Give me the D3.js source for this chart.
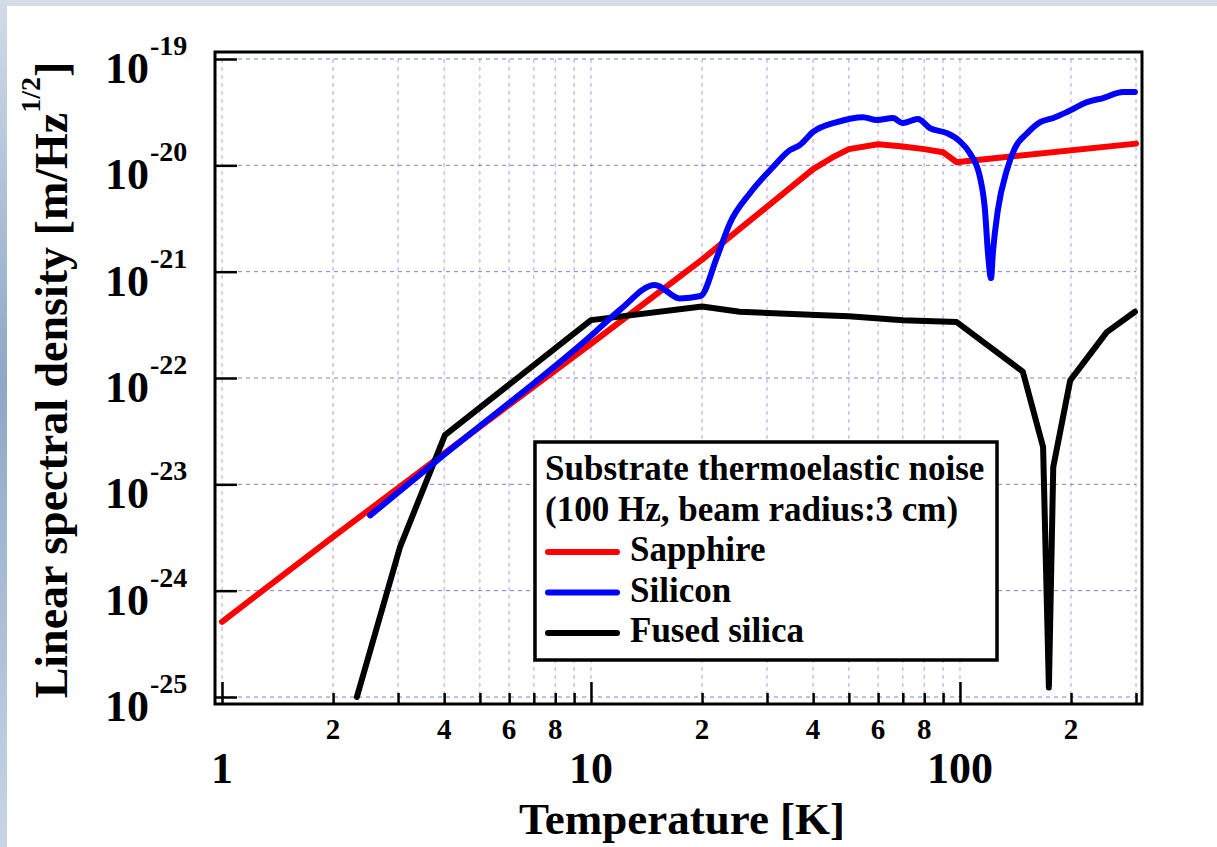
<!DOCTYPE html>
<html>

<head>
    <title>Substrate thermoelastic noise</title>
    <script src="https://d3js.org/d3.v7.min.js"></script>
    <style>
        body { margin: 0; background: #ffffff; }
        text { font-family: "Liberation Serif", "Times New Roman", serif; font-weight: bold; fill: #000; }
    </style>
</head>

<body>

    <svg width="1217" height="847" id="mainSvg" class="svgs"></svg>
    <script>

        // --- data ---
        const tempSapphire = [1, 2, 4, 10, 20, 40, 45, 50, 60, 70, 80, 90, 98, 105, 300];
        const sapphire = [5.1e-25, 3.2e-24, 1.95e-23, 2.1e-22, 1.3e-21, 9.2e-21, 1.18e-20, 1.42e-20, 1.58e-20,
            1.5e-20, 1.42e-20, 1.33e-20, 1.07e-20, 1.1e-20, 1.6e-20];

        const tempSilicon = [2.52, 4, 10, 12, 14.9, 17.4, 19.8, 21.95, 23.8, 27, 31.1, 34.6, 36.8, 40, 46.4, 54.6,
            59.6, 65.8, 70, 76.9, 82.9, 92.2, 100, 106.4, 113.3, 116.9, 119.1, 121.4, 122.8, 126.7, 134, 141, 152,
            165, 179, 195, 221, 244, 277, 298];
        const silicon = [5.1e-24, 1.9e-23, 2.5e-22, 4.4e-22, 7.5e-22, 5.6e-22, 5.9e-22, 1.37e-21, 2.86e-21, 5.5e-21,
            9.6e-21, 1.39e-20, 1.55e-20, 2.06e-20, 2.55e-20, 2.84e-20, 2.67e-20, 2.78e-20, 2.5e-20, 2.73e-20, 2.24e-20,
            2.01e-20, 1.68e-20, 1.3e-20, 7.76e-21, 3.8e-21, 1.5e-21, 8.7e-22, 1.5e-21, 3.8e-21, 9.0e-21, 1.46e-20,
            2.0e-20, 2.55e-20, 2.79e-20, 3.17e-20, 3.93e-20, 4.29e-20, 4.9e-20, 4.9e-20];

        const tempSilica = [2.32, 3.04, 4.02, 10, 20, 25.3, 42.5, 50, 70, 98, 148, 168, 174.2, 179, 199, 250, 298];
        const silica = [1e-25, 2.6e-24, 2.9e-23, 3.5e-22, 4.7e-22, 4.2e-22, 3.9e-22, 3.8e-22, 3.5e-22, 3.36e-22,
            1.15e-22, 2.24e-23, 1.23e-25, 1.45e-23, 9.5e-23, 2.7e-22, 4.2e-22];

        const seriesNames = ["Sapphire", "Silicon", "Fused silica"];
        const seriesColors = ["#ff0000", "#0000ff", "#000000"];
        const legendTitle = ["Substrate thermoelastic noise", "(100 Hz, beam radius:3 cm)"];

        const yExponents = [-19, -20, -21, -22, -23, -24, -25];
        const xMajor = [1, 10, 100];
        const xMinorLabels = [2, 4, 6, 8, 20, 40, 60, 80, 200];

        // --- layout ---
        const mainSvg = d3.select('.svgs');
        const frame = { left: 215, right: 1142, top: 52, bottom: 704 };

        const xScale = d3.scaleLog().domain([1, 300]).range([222, 1136]);
        const yScale = d3.scaleLog().domain([1e-25, 1e-19]).range([697, 59]);

        // slide background strips
        const defs = mainSvg.append("defs");
        const grad = defs.append("linearGradient").attr("id", "sideGrad")
            .attr("x1", 0).attr("y1", 0).attr("x2", 0).attr("y2", 1);
        grad.append("stop").attr("offset", "0%").attr("stop-color", "#d2dbe8");
        grad.append("stop").attr("offset", "45%").attr("stop-color", "#8ea7c6");
        grad.append("stop").attr("offset", "100%").attr("stop-color", "#c9d5e5");
        mainSvg.append("rect").attr("x", 0).attr("y", 0).attr("width", 1217).attr("height", 6).attr("fill", "#d4dce8");
        mainSvg.append("rect").attr("x", 0).attr("y", 0).attr("width", 7).attr("height", 847).attr("fill", "url(#sideGrad)");

        defs.append("clipPath").attr("id", "plotClip").append("rect")
            .attr("x", frame.left).attr("y", frame.top)
            .attr("width", frame.right - frame.left).attr("height", frame.bottom - frame.top);

        // all ticks 1..300 for grid and minor ticks
        const xAll = [];
        [1, 10, 100].forEach(dec => {
            for (let k = 1; k <= 9; k++) if (dec * k <= 300) xAll.push(dec * k);
        });

        // grid
        const grid = mainSvg.append("g").attr("class", "grid")
            .attr("stroke", "#7f7fd6").attr("stroke-width", 1).attr("stroke-dasharray", "4 4");
        grid.selectAll(".vgrid").data(xAll).join("line").attr("class", "vgrid")
            .attr("x1", d => xScale(d)).attr("x2", d => xScale(d))
            .attr("y1", yScale(1e-19)).attr("y2", yScale(1e-25))
            .attr("stroke-opacity", 0.7);
        grid.selectAll(".hgrid").data(yExponents).join("line").attr("class", "hgrid")
            .attr("x1", xScale(1)).attr("x2", xScale(300))
            .attr("y1", d => yScale(Math.pow(10, d))).attr("y2", d => yScale(Math.pow(10, d)));

        // x ticks (inside, from bottom frame)
        const xMinorAxis = d3.axisBottom(xScale).tickValues(xAll.filter(d => !xMajor.includes(d)))
            .tickSize(-11).tickFormat("");
        const xMajorAxis = d3.axisBottom(xScale).tickValues(xMajor).tickSize(-22).tickFormat("");
        [xMinorAxis, xMajorAxis].forEach(ax => {
            const gA = mainSvg.append("g").attr("transform", `translate(0, ${frame.bottom})`).call(ax);
            gA.select(".domain").remove();
            gA.selectAll("line").attr("stroke", "#000").attr("stroke-width", 2.5);
        });

        // y ticks (inside, from left frame)
        const yAxis = d3.axisRight(yScale).tickValues(yExponents.map(e => Math.pow(10, e)))
            .tickSize(22).tickFormat("");
        const yAxisGroup = mainSvg.append("g").attr("transform", `translate(${frame.left}, 0)`).call(yAxis);
        yAxisGroup.select(".domain").remove();
        yAxisGroup.selectAll("line").attr("stroke", "#000").attr("stroke-width", 2.5);

        // x labels
        mainSvg.selectAll(".xMinorLabel").data(xMinorLabels).join("text").attr("class", "xMinorLabel")
            .attr("x", d => xScale(d)).attr("y", 739)
            .attr("text-anchor", "middle").attr("font-size", 29)
            .text(d => String(d).charAt(0));
        mainSvg.selectAll(".xMajorLabel").data(xMajor).join("text").attr("class", "xMajorLabel")
            .attr("x", d => xScale(d)).attr("y", 783)
            .attr("text-anchor", "middle").attr("font-size", 44)
            .text(d => d);

        // y labels 10^e
        const yLab = mainSvg.selectAll(".yLabel").data(yExponents).join("g").attr("class", "yLabel");
        yLab.append("text").attr("x", 105).attr("y", d => yScale(Math.pow(10, d)) + 24)
            .attr("font-size", 44).text("10");
        yLab.append("text").attr("x", 150).attr("y", d => yScale(Math.pow(10, d)) - 4)
            .attr("font-size", 28).text(d => d);

        // axis titles
        mainSvg.append("text").attr("x", 682).attr("y", 834).attr("text-anchor", "middle")
            .attr("font-size", 45).text("Temperature [K]");
        const yTitle = mainSvg.append("text").attr("transform", "translate(67, 380) rotate(-90)")
            .attr("text-anchor", "middle").attr("font-size", 46);
        yTitle.append("tspan").text("Linear spectral density [m/Hz");
        yTitle.append("tspan").attr("font-size", 28).attr("dy", -27).text("1/2");
        yTitle.append("tspan").attr("dy", 27).text("]");

        // curves
        const makeSeries = (t, v) => t.map((d, i) => ({ t: d, v: v[i] }));
        const allSeries = [
            { name: seriesNames[0], color: seriesColors[0], values: makeSeries(tempSapphire, sapphire), curve: d3.curveLinear },
            { name: seriesNames[2], color: seriesColors[2], values: makeSeries(tempSilica, silica), curve: d3.curveLinear },
            { name: seriesNames[1], color: seriesColors[1], values: makeSeries(tempSilicon, silicon), curve: d3.curveMonotoneX }
        ];

        const plot = mainSvg.append("g").attr("clip-path", "url(#plotClip)");
        allSeries.forEach(s => {
            const line = d3.line().x(d => xScale(d.t)).y(d => yScale(d.v)).curve(s.curve);
            plot.append("path").datum(s.values)
                .attr("d", line)
                .attr("fill", "none")
                .attr("stroke", s.color)
                .attr("stroke-width", 6)
                .attr("stroke-linejoin", "round")
                .attr("stroke-linecap", "round");
        });

        // frame
        mainSvg.append("rect").attr("x", frame.left).attr("y", frame.top)
            .attr("width", frame.right - frame.left).attr("height", frame.bottom - frame.top)
            .attr("fill", "none").attr("stroke", "#000").attr("stroke-width", 3);

        // legend
        const legend = mainSvg.append("g").attr("class", "legend");
        legend.append("rect").attr("x", 535).attr("y", 442).attr("width", 462).attr("height", 218)
            .attr("fill", "#fff").attr("stroke", "#000").attr("stroke-width", 3.5);
        legend.selectAll(".legTitle").data(legendTitle).join("text").attr("class", "legTitle")
            .attr("x", 545).attr("y", (d, i) => 480 + i * 40.5)
            .attr("font-size", 35).text(d => d);
        const legItems = legend.selectAll(".legItem").data(seriesNames).join("g").attr("class", "legItem")
            .attr("transform", (d, i) => `translate(0, ${561 + i * 40.5})`);
        legItems.append("line").attr("x1", 548).attr("x2", 617).attr("y1", -9).attr("y2", -9)
            .attr("stroke", (d, i) => seriesColors[i]).attr("stroke-width", 6).attr("stroke-linecap", "round");
        legItems.append("text").attr("x", 630).attr("y", 0).attr("font-size", 35).text(d => d);

    </script>
</body>

</html>
